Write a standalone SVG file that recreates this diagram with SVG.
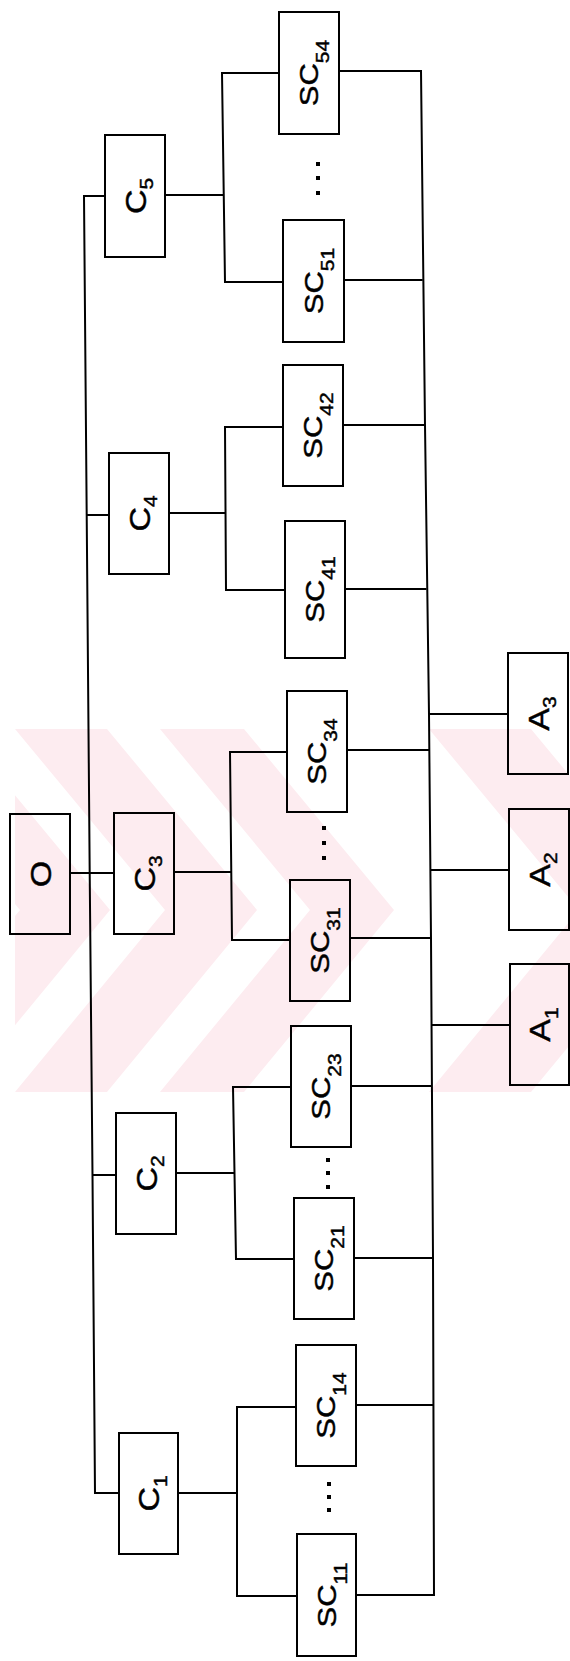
<svg xmlns="http://www.w3.org/2000/svg" width="570" height="1661" viewBox="0 0 570 1661">
<style>
.box{fill:none;stroke:#000;stroke-width:2}
.ln{fill:none;stroke:#000;stroke-width:2}
.lbl{font-family:"Liberation Sans",Arial,sans-serif;text-anchor:middle;fill:#000;stroke:#000;stroke-width:0.5}
.sc{font-size:31px}
.sc .sub{font-size:21px}
.cl{font-size:34px}
.cl .sub{font-size:21px}
.wm{fill:#fdecf0}
.dot{fill:#000}
</style>
<defs>
<clipPath id="wmclip"><rect x="15" y="729" width="555" height="363"/></clipPath>
</defs>
<g id="watermark" clip-path="url(#wmclip)">
<polygon class="wm" points="15,729 107,729 257,910 107,1092 15,1092 165,910"/>
<polygon class="wm" points="160,729 244,729 394,910 244,1092 160,1092 310,910"/>
<polygon class="wm" points="429,729 531,729 681,910 531,1092 429,1092 579,910"/>
<polygon class="wm" points="-130,729 -40,729 110,910 -40,1092 -130,1092 20,910"/>
</g>
<g id="connectors">
<path class="ln" d="M70,873 H114"/>
<path class="ln" d="M105,196 H84 L86.7,515 L89.7,873 L92.5,1175 L95,1493 H119"/>
<path class="ln" d="M86.7,515 H109"/>
<path class="ln" d="M92.5,1175 H116"/>
<path class="ln" d="M165,195 H223"/>
<path class="ln" d="M279,73 H222 L225,282 H283"/>
<path class="ln" d="M169,513 H225.5"/>
<path class="ln" d="M283,427 H225 L226,590 H285"/>
<path class="ln" d="M174,872 H231"/>
<path class="ln" d="M287,752 H230 L232,940 H290"/>
<path class="ln" d="M176,1173 H234"/>
<path class="ln" d="M291,1087 H233 L236,1259 H294"/>
<path class="ln" d="M178,1493 H237"/>
<path class="ln" d="M296,1407 H237 L237,1596 H297"/>
<path class="ln" d="M339,71 H421 L425,425 L429,714 L431,938 L433,1258 L434,1595 H356"/>
<path class="ln" d="M344,280 H422.7"/>
<path class="ln" d="M343,425 H425"/>
<path class="ln" d="M345,589 H426.5"/>
<path class="ln" d="M347,750 H429.5"/>
<path class="ln" d="M350,938 H431"/>
<path class="ln" d="M351,1086 H432"/>
<path class="ln" d="M354,1258 H433"/>
<path class="ln" d="M356,1405 H433.5"/>
<path class="ln" d="M429,714 H508"/>
<path class="ln" d="M430.2,870 H509"/>
<path class="ln" d="M431.6,1025 H510"/>
<rect class="dot" x="316" y="162" width="4" height="4"/>
<rect class="dot" x="316" y="176" width="4" height="4"/>
<rect class="dot" x="316" y="191" width="4" height="4"/>
<rect class="dot" x="322" y="826" width="4" height="4"/>
<rect class="dot" x="322" y="841" width="4" height="4"/>
<rect class="dot" x="322" y="856" width="4" height="4"/>
<rect class="dot" x="326" y="1158" width="4" height="4"/>
<rect class="dot" x="326" y="1171" width="4" height="4"/>
<rect class="dot" x="326" y="1185" width="4" height="4"/>
<rect class="dot" x="327" y="1482" width="4" height="4"/>
<rect class="dot" x="327" y="1495" width="4" height="4"/>
<rect class="dot" x="327" y="1508" width="4" height="4"/>
</g>
<g id="O"><rect class="box" x="10" y="814" width="60" height="120"/><text class="lbl cl" transform="translate(40,874) rotate(-90) scale(1,0.88)" y="12">O</text></g>
<g id="C5"><rect class="box" x="105" y="135" width="60" height="122"/><text class="lbl cl" transform="translate(135,196) rotate(-90) scale(1,0.88)" y="12">C<tspan class="sub" dy="9">5</tspan></text></g>
<g id="C4"><rect class="box" x="109" y="453" width="60" height="121"/><text class="lbl cl" transform="translate(139,513.5) rotate(-90) scale(1,0.88)" y="12">C<tspan class="sub" dy="9">4</tspan></text></g>
<g id="C3"><rect class="box" x="114" y="813" width="60" height="121"/><text class="lbl cl" transform="translate(144,873.5) rotate(-90) scale(1,0.88)" y="12">C<tspan class="sub" dy="9">3</tspan></text></g>
<g id="C2"><rect class="box" x="116" y="1113" width="60" height="121"/><text class="lbl cl" transform="translate(146,1173.5) rotate(-90) scale(1,0.88)" y="12">C<tspan class="sub" dy="9">2</tspan></text></g>
<g id="C1"><rect class="box" x="119" y="1433" width="59" height="121"/><text class="lbl cl" transform="translate(148.5,1493.5) rotate(-90) scale(1,0.88)" y="12">C<tspan class="sub" dy="9">1</tspan></text></g>
<g id="SC54"><rect class="box" x="279" y="12" width="60" height="122"/><text class="lbl sc" transform="translate(309,73) rotate(-90) scale(1,0.85)" y="11">SC<tspan class="sub" dy="13">54</tspan></text></g>
<g id="SC51"><rect class="box" x="283" y="220" width="61" height="122"/><text class="lbl sc" transform="translate(313.5,281) rotate(-90) scale(1,0.85)" y="11">SC<tspan class="sub" dy="13">51</tspan></text></g>
<g id="SC42"><rect class="box" x="283" y="365" width="60" height="121"/><text class="lbl sc" transform="translate(313,425.5) rotate(-90) scale(1,0.85)" y="11">SC<tspan class="sub" dy="13">42</tspan></text></g>
<g id="SC41"><rect class="box" x="285" y="521" width="60" height="137"/><text class="lbl sc" transform="translate(315,589.5) rotate(-90) scale(1,0.85)" y="11">SC<tspan class="sub" dy="13">41</tspan></text></g>
<g id="SC34"><rect class="box" x="287" y="691" width="60" height="121"/><text class="lbl sc" transform="translate(317,751.5) rotate(-90) scale(1,0.85)" y="11">SC<tspan class="sub" dy="13">34</tspan></text></g>
<g id="SC31"><rect class="box" x="290" y="880" width="60" height="121"/><text class="lbl sc" transform="translate(320,940.5) rotate(-90) scale(1,0.85)" y="11">SC<tspan class="sub" dy="13">31</tspan></text></g>
<g id="SC23"><rect class="box" x="291" y="1026" width="60" height="121"/><text class="lbl sc" transform="translate(321,1086.5) rotate(-90) scale(1,0.85)" y="11">SC<tspan class="sub" dy="13">23</tspan></text></g>
<g id="SC21"><rect class="box" x="294" y="1198" width="60" height="121"/><text class="lbl sc" transform="translate(324,1258.5) rotate(-90) scale(1,0.85)" y="11">SC<tspan class="sub" dy="13">21</tspan></text></g>
<g id="SC14"><rect class="box" x="296" y="1345" width="60" height="121"/><text class="lbl sc" transform="translate(326,1405.5) rotate(-90) scale(1,0.85)" y="11">SC<tspan class="sub" dy="13">14</tspan></text></g>
<g id="SC11"><rect class="box" x="297" y="1534" width="59" height="122"/><text class="lbl sc" transform="translate(326.5,1595) rotate(-90) scale(1,0.85)" y="11">SC<tspan class="sub" dy="13">11</tspan></text></g>
<g id="A3"><rect class="box" x="508" y="653" width="60" height="121"/><text class="lbl cl" transform="translate(538,713.5) rotate(-90) scale(1,0.88)" y="12">A<tspan class="sub" dy="9">3</tspan></text></g>
<g id="A2"><rect class="box" x="509" y="809" width="60" height="121"/><text class="lbl cl" transform="translate(539,869.5) rotate(-90) scale(1,0.88)" y="12">A<tspan class="sub" dy="9">2</tspan></text></g>
<g id="A1"><rect class="box" x="510" y="964" width="59" height="121"/><text class="lbl cl" transform="translate(539.5,1024.5) rotate(-90) scale(1,0.88)" y="12">A<tspan class="sub" dy="9">1</tspan></text></g>
</svg>
